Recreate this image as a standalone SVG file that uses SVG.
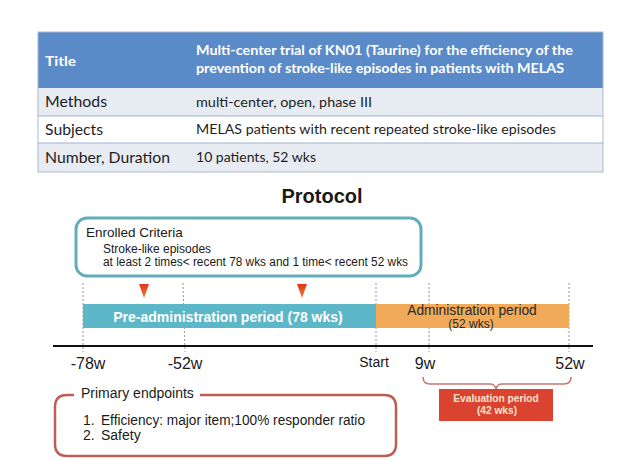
<svg xmlns="http://www.w3.org/2000/svg" width="630" height="461" viewBox="0 0 630 461">
<defs>
<linearGradient id="tri" x1="0" y1="0" x2="0" y2="1">
<stop offset="0" stop-color="#e3361f"/>
<stop offset="1" stop-color="#f07a2e"/>
</linearGradient>
<style>
.tb{font-family:Lato,"Open Sans","Liberation Sans",sans-serif;}
.tl{font-size:15px;fill:#1e1e1e;}
.tr{font-size:14px;fill:#1e1e1e;}
.th{font-size:14px;font-weight:bold;fill:#ffffff;}
.sans{font-family:"Liberation Sans",Arial,sans-serif;}
.ax{font-size:16px;fill:#1a1a1a;}
.dash{stroke:#8a8a8a;stroke-width:0.9;stroke-dasharray:2 2;fill:none;}
.rowline{stroke:#9fb2cf;stroke-width:1;}
</style>
</defs>
<rect width="630" height="461" fill="#ffffff"/>

<g id="table">
<rect x="38" y="32" width="565" height="56" fill="#5a8bc8"/>
<rect x="38" y="88" width="565" height="28" fill="#e7ebf2"/>
<rect x="38" y="116" width="565" height="27" fill="#ffffff"/>
<rect x="38" y="143" width="565" height="29" fill="#e7ebf2"/>
<line class="rowline" x1="38" y1="116" x2="603" y2="116"/>
<line class="rowline" x1="38" y1="143" x2="603" y2="143"/>
<rect x="38" y="32" width="565" height="140" fill="none" stroke="#a9b9d3" stroke-width="1"/>
<text class="tb th" x="45" y="66" textLength="31" lengthAdjust="spacingAndGlyphs">Title</text>
<text class="tb th" x="196" y="55" textLength="377" lengthAdjust="spacingAndGlyphs">Multi-center trial of KN01 (Taurine) for the efficiency of the</text>
<text class="tb th" x="196" y="73" textLength="368" lengthAdjust="spacingAndGlyphs">prevention of stroke-like episodes in patients with MELAS</text>
<text class="tb tl" x="45" y="107" textLength="62" lengthAdjust="spacingAndGlyphs">Methods</text>
<text class="tb tl" x="45" y="135" textLength="58" lengthAdjust="spacingAndGlyphs">Subjects</text>
<text class="tb tl" x="45" y="163" textLength="125" lengthAdjust="spacingAndGlyphs">Number, Duration</text>
<text class="tb tr" x="196" y="107" textLength="176" lengthAdjust="spacingAndGlyphs">multi-center, open, phase III</text>
<text class="tb tr" x="196" y="134" textLength="360" lengthAdjust="spacingAndGlyphs">MELAS patients with recent repeated stroke-like episodes</text>
<text class="tb tr" x="196" y="162" textLength="120" lengthAdjust="spacingAndGlyphs">10 patients, 52 wks</text>
</g>

<g id="title">
<text class="sans" x="322" y="203" font-size="20" font-weight="bold" fill="#1a1a1a" text-anchor="middle">Protocol</text>
</g>

<g id="connectors">
<line class="dash" x1="83" y1="283" x2="83" y2="352"/>
<line class="dash" x1="183" y1="283" x2="185" y2="352"/>
<line class="dash" x1="376" y1="283" x2="376" y2="352"/>
<line class="dash" x1="429" y1="283" x2="429" y2="352"/>
<line class="dash" x1="569" y1="283" x2="569" y2="352"/>
<line x1="53" y1="346" x2="593" y2="346" stroke="#111" stroke-width="2"/>
<path d="M423,377 Q423,384 430,384 L490,384 Q495,384 496,389 Q497,384 502,384 L564,384 Q571,384 571,377" fill="none" stroke="#c47a70" stroke-width="1.6"/>
</g>

<g id="enrolled">
<rect x="76" y="218" width="345" height="58" rx="11" ry="11" fill="#ffffff" stroke="#62adba" stroke-width="3"/>
<text class="sans" x="86" y="237" font-size="13.5" fill="#1a1a1a">Enrolled Criteria</text>
<text class="sans" x="103" y="253" font-size="12" fill="#1a1a1a">Stroke-like episodes</text>
<text class="sans" x="103" y="266" font-size="12" fill="#1a1a1a" textLength="305" lengthAdjust="spacingAndGlyphs">at least 2 times&lt; recent 78 wks and 1 time&lt; recent 52 wks</text>
</g>

<g id="marker1">
<polygon points="139,284 149,284 144,298" fill="url(#tri)"/>
</g>
<g id="marker2">
<polygon points="297,284 307,284 302,298" fill="url(#tri)"/>
</g>

<g id="pre-admin">
<rect x="83" y="304" width="293" height="24" fill="#5cb7c9"/>
<text class="sans" x="228" y="322" font-size="14" font-weight="bold" fill="#ffffff" text-anchor="middle">Pre-administration period (78 wks)</text>
</g>

<g id="admin">
<rect x="376" y="304" width="193" height="24" fill="#f0aa58"/>
<text class="sans" x="472" y="315" font-size="13.8" fill="#2a2a2a" text-anchor="middle">Administration period</text>
<text class="sans" x="471" y="328" font-size="12" fill="#2a2a2a" text-anchor="middle">(52 wks)</text>
</g>

<g id="axis-labels">
<text class="sans ax" x="88" y="369" text-anchor="middle">-78w</text>
<text class="sans ax" x="185" y="369" text-anchor="middle">-52w</text>
<text class="sans" x="374" y="367" font-size="14" fill="#1a1a1a" text-anchor="middle">Start</text>
<text class="sans ax" x="425" y="369" text-anchor="middle">9w</text>
<text class="sans ax" x="570" y="369" text-anchor="middle">52w</text>
</g>

<g id="evaluation">
<rect x="439" y="389" width="114" height="32" fill="#d9432f"/>
<text class="sans" x="496" y="402" font-size="10.2" font-weight="bold" fill="#fde3cc" text-anchor="middle">Evaluation period</text>
<text class="sans" x="497" y="414" font-size="10.2" font-weight="bold" fill="#fde3cc" text-anchor="middle">(42 wks)</text>
</g>

<g id="endpoints">
<path d="M74,395 L67,395 Q55,395 55,407 L55,444 Q55,456 67,456 L384,456 Q396,456 396,444 L396,407 Q396,395 384,395 L200,395" fill="none" stroke="#bb5f56" stroke-width="2.5"/>
<text class="sans" x="81" y="398" font-size="14" fill="#1a1a1a">Primary endpoints</text>
<text class="sans" x="83" y="425" font-size="14" fill="#1a1a1a">1.</text>
<text class="sans" x="101" y="425" font-size="14" fill="#1a1a1a" textLength="264" lengthAdjust="spacingAndGlyphs">Efficiency: major item;100% responder ratio</text>
<text class="sans" x="83" y="440" font-size="14" fill="#1a1a1a">2.</text>
<text class="sans" x="101" y="440" font-size="14" fill="#1a1a1a">Safety</text>
</g>
</svg>
